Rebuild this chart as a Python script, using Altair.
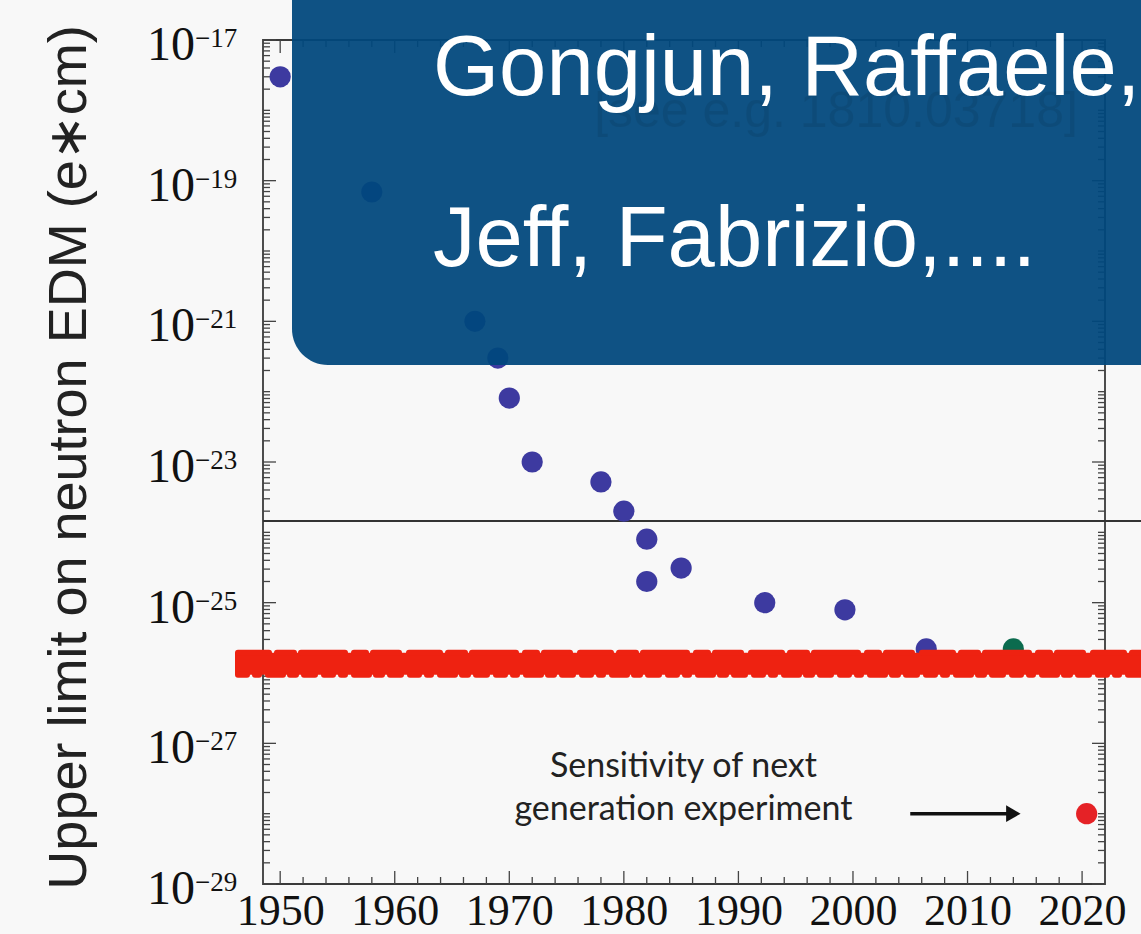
import altair as alt
import pandas as pd

# ---------------- data ----------------
blue_years = [1950, 1958, 1967, 1969, 1970, 1972, 1978, 1980, 1982, 1982, 1985, 1992.3, 1999.3, 2006.4]
blue_limits = [3.0e-18, 6.9e-20, 1.0e-21, 3.0e-22, 8.1e-23, 1.0e-23, 5.2e-24, 2.0e-24,
               8.0e-25, 2.0e-25, 3.1e-25, 1.0e-25, 7.9e-26, 2.2e-26]
green_years = [2014.0]
green_limits = [2.2e-26]
red_years = [2020.4]
red_limits = [1.0e-28]

x_label_years = [1950, 1960, 1970, 1980, 1990, 2000, 2010, 2020]
y_label_exponents = [-17, -19, -21, -23, -25, -27, -29]
y_title = "Upper limit on neutron EDM (e\u2217cm)"

black_line_level = [1.45e-24]
red_band_level = [1.35e-26]

sensitivity_lines = ["Sensitivity of next", "generation experiment"]
sensitivity_year = [1985.2, 1985.2]
sensitivity_levels = [3.3e-28, 8.1e-29]
arrow_start = [2005.0]
arrow_end = [2014.0]
arrow_level = [1.0e-28]

overlay_lines = ["Gongjun, Raffaele,", "Jeff, Fabrizio,...."]
faint_note = "[see e.g. 1810.03718]"

# ---------------- tables ----------------
pts = pd.DataFrame({
    "year": blue_years + green_years + red_years,
    "edm": blue_limits + green_limits + red_limits,
    "group": ["measured"] * len(blue_years) + ["recent"] * len(green_years) + ["next"] * len(red_years),
})
x_major = pd.DataFrame({"year": list(range(1950, 2021, 10))})
x_minor = pd.DataFrame({"year": [y for y in range(1950, 2021, 2) if y % 10]})
y_major = pd.DataFrame({"edm": [10.0 ** e for e in y_label_exponents]})
y_minor = pd.DataFrame({"edm": [k * 10.0 ** n for n in range(-29, -17) for k in range(1, 10)
                                if not (k == 1 and n % 2 != 0)]})
y_labels = pd.DataFrame({
    "edm": [10.0 ** e for e in y_label_exponents],
    "base": ["10"] * len(y_label_exponents),
    "exp": ["\u2212" + str(-e) for e in y_label_exponents],
})

W, H = 842, 844
x_scale = alt.Scale(domain=[1948.5, 2022], nice=False, zero=False)
y_scale = alt.Scale(type="log", domain=[1e-29, 1e-17], nice=False)

x_axis = alt.Axis(values=x_label_years, format="d", labelFont="Liberation Serif", labelFontSize=44,
                  labelColor="#111111", labelPadding=40, labelBaseline="alphabetic", ticks=False,
                  tickSize=0, domain=False, grid=False, title=None, labelOverlap=False, labelFlush=False)
y_axis = alt.Axis(labels=False, ticks=False, tickSize=0, domain=False, grid=False, title=y_title,
                  titleFont="Liberation Sans", titleFontSize=54, titleFontWeight="normal",
                  titleColor="#222222", titleAngle=270, titleX=-178, titleY=417,
                  titleAlign="center", titleBaseline="alphabetic")


def X(field):
    return alt.X(field, type="quantitative", scale=x_scale, axis=x_axis)


def Y(field):
    return alt.Y(field, type="quantitative", scale=y_scale, axis=y_axis)


TICK = "#444444"
layers = []

# horizontal black reference line
layers.append(
    alt.Chart(pd.DataFrame({"edm": black_line_level})).mark_rule(color="#333333", strokeWidth=2)
    .encode(y=Y("edm"), x=alt.value(0), x2=alt.value(878))
)

# inward ticks on all four sides
for df, ln in ((y_major, 13), (y_minor, 7)):
    layers.append(alt.Chart(df).mark_rule(color=TICK, strokeWidth=1.3).encode(
        y=Y("edm"), x=alt.value(0), x2=alt.value(ln)))
    layers.append(alt.Chart(df).mark_rule(color=TICK, strokeWidth=1.3).encode(
        y=Y("edm"), x=alt.value(W - ln), x2=alt.value(W)))
for df, ln in ((x_major, 13), (x_minor, 7)):
    layers.append(alt.Chart(df).mark_rule(color=TICK, strokeWidth=1.3).encode(
        x=X("year"), y=alt.value(H - ln), y2=alt.value(H)))
    layers.append(alt.Chart(df).mark_rule(color=TICK, strokeWidth=1.3).encode(
        x=X("year"), y=alt.value(0), y2=alt.value(ln)))

# data points
layers.append(
    alt.Chart(pts).mark_circle(size=450, opacity=1).encode(
        x=X("year"),
        y=Y("edm"),
        color=alt.Color("group:N", scale=alt.Scale(domain=["measured", "recent", "next"],
                                                   range=["#3d3aa0", "#0b6b4e", "#e52226"]),
                        legend=None),
    )
)

# red hand-drawn band
band = pd.DataFrame({"edm": red_band_level})
layers.append(alt.Chart(band).mark_rule(color="#ee2211", strokeWidth=22).encode(
    y=Y("edm"), x=alt.value(-28), x2=alt.value(878)))
layers.append(alt.Chart(band).mark_rule(color="#ee2211", strokeWidth=6, strokeCap="round",
                                        strokeDash=[31, 8, 17, 7, 44, 9, 12, 7, 26, 10]).encode(
    y=Y("edm"), yOffset=alt.value(-11), x=alt.value(-25), x2=alt.value(878)))
layers.append(alt.Chart(band).mark_rule(color="#ee2211", strokeWidth=6, strokeCap="round",
                                        strokeDash=[9, 8, 4, 9, 15, 7, 6, 8, 11, 9]).encode(
    y=Y("edm"), yOffset=alt.value(11), x=alt.value(-25), x2=alt.value(878)))

# annotation text + arrow
sens = pd.DataFrame({"t": sensitivity_lines, "year": sensitivity_year, "edm": sensitivity_levels})
layers.append(alt.Chart(sens).mark_text(font="Lato", fontSize=34, color="#222222", align="center",
                                        baseline="alphabetic").encode(
    x=X("year"), y=Y("edm"), text="t:N"))
arr = pd.DataFrame({"year": arrow_start, "year_end": arrow_end, "edm": arrow_level})
layers.append(alt.Chart(arr).mark_rule(color="#111111", strokeWidth=3.5).encode(
    x=X("year"), x2="year_end:Q", y=Y("edm")))
layers.append(alt.Chart(arr).mark_point(shape="triangle-right", filled=True, size=280, color="#111111",
                                        opacity=1).encode(
    x=X("year_end"), y=Y("edm")))

# y tick labels with superscript exponents
layers.append(alt.Chart(y_labels).mark_text(font="Liberation Serif", fontSize=48, color="#111111",
                                            align="right", baseline="alphabetic", dy=20).encode(
    y=Y("edm"), x=alt.value(-68), text="base:N"))
layers.append(alt.Chart(y_labels).mark_text(font="Liberation Serif", fontSize=27, color="#111111",
                                            align="left", baseline="alphabetic", dy=7).encode(
    y=Y("edm"), x=alt.value(-68), text="exp:N"))

# overlay box from the slide
one = pd.DataFrame({"k": [0]})
layers.append(alt.Chart(one).mark_rect(cornerRadius=36, color="#00477c", opacity=0.94).encode(
    x=alt.value(29), x2=alt.value(960), y=alt.value(-120), y2=alt.value(325)))
layers.append(alt.Chart(pd.DataFrame({"t": [faint_note]})).mark_text(
    font="Liberation Sans", fontSize=50, color="#000000", opacity=0.08, align="center",
    baseline="alphabetic").encode(x=alt.value(573), y=alt.value(87), text="t:N"))
layers.append(alt.Chart(pd.DataFrame({"t": [overlay_lines[0]]})).mark_text(
    font="Liberation Sans", fontSize=85, color="#ffffff", align="left", baseline="alphabetic").encode(
    x=alt.value(170), y=alt.value(55), text="t:N"))
layers.append(alt.Chart(pd.DataFrame({"t": [overlay_lines[1]]})).mark_text(
    font="Liberation Sans", fontSize=85, color="#ffffff", align="left", baseline="alphabetic").encode(
    x=alt.value(170), y=alt.value(226), text="t:N"))

chart = (
    alt.layer(*layers)
    .properties(width=W, height=H, autosize=alt.AutoSizeParams(type="none"),
                padding={"left": 263, "top": 40, "right": 36, "bottom": 50},
                background="#f8f8f8")
    .configure_view(stroke="#3a3a3a", strokeWidth=1.8, fill="#f8f8f8")
)

chart.save("out.html", embed_options={"renderer": "svg", "actions": False})
